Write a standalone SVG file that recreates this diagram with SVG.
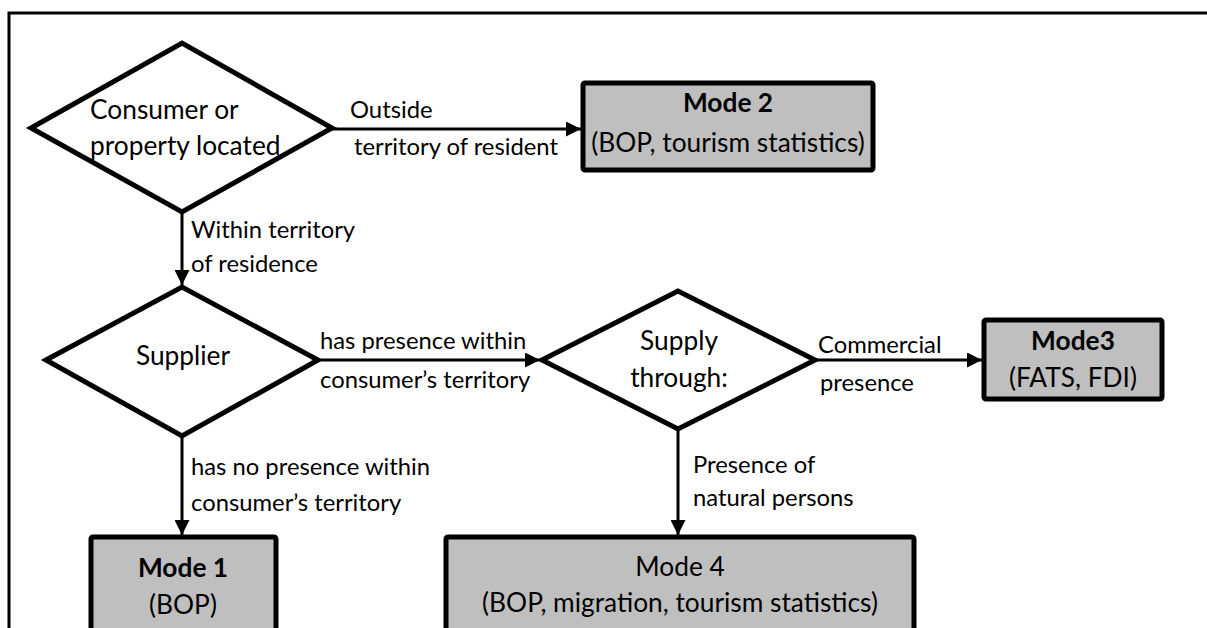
<svg xmlns="http://www.w3.org/2000/svg" width="1207" height="628" viewBox="0 0 1207 628">
<defs>
<style>
.frame{fill:none;stroke:#000;stroke-width:3}
.dia{fill:#fff;stroke:#000;stroke-width:5;stroke-linejoin:miter}
.box{fill:#bfbfbf;stroke:#000;stroke-width:5}
.con{fill:none;stroke:#000;stroke-width:3}
text{font-family:Lato,"Liberation Sans",sans-serif;fill:#000}
.nt{font-size:26.3px}
.lb{font-size:23.8px}
.b{font-weight:bold}
.c{text-anchor:middle}
</style>
<marker id="ah" viewBox="0 0 10 10" refX="10" refY="5" markerWidth="5" markerHeight="5" markerUnits="strokeWidth" orient="auto">
<path d="M0,0 L10,5 L0,10 Z" fill="#000"/>
</marker>
</defs>
<rect width="1207" height="628" fill="#fff"/>
<path class="frame" d="M9,640 L9,13 L1215,13"/>
<g id="connectors">
<line class="con" x1="332" y1="129" x2="581" y2="129" marker-end="url(#ah)"/>
<line class="con" x1="182" y1="212" x2="182" y2="285" marker-end="url(#ah)"/>
<line class="con" x1="318" y1="360" x2="540" y2="360" marker-end="url(#ah)"/>
<line class="con" x1="182" y1="436" x2="182" y2="535" marker-end="url(#ah)"/>
<line class="con" x1="815" y1="360" x2="982" y2="360" marker-end="url(#ah)"/>
<line class="con" x1="678" y1="429" x2="678" y2="535" marker-end="url(#ah)"/>
<text class="lb" x="350" y="118">Outside</text>
<text class="lb" x="354" y="155">territory of resident</text>
<text class="lb" x="191" y="238">Within territory</text>
<text class="lb" x="191" y="272">of residence</text>
<text class="lb" x="320" y="349">has presence within</text>
<text class="lb" x="320" y="388">consumer’s territory</text>
<text class="lb" x="191" y="475">has no presence within</text>
<text class="lb" x="191" y="511">consumer’s territory</text>
<text class="lb" x="818" y="353">Commercial</text>
<text class="lb" x="820" y="391">presence</text>
<text class="lb" x="693" y="473">Presence of</text>
<text class="lb" x="693" y="506">natural persons</text>
</g>
<g id="d1">
<polygon class="dia" points="31,128 182,43 332,128 182,212"/>
<text class="nt" x="90" y="119">Consumer or</text>
<text class="nt" x="90" y="155">property located</text>
</g>
<g id="mode2">
<rect class="box" x="583" y="83" width="290" height="87" rx="2"/>
<text class="nt b c" x="728" y="112">Mode 2</text>
<text class="nt c" x="728" y="152">(BOP, tourism statistics)</text>
</g>
<g id="d2">
<polygon class="dia" points="46,360 182,287 318,360 182,436"/>
<text class="nt c" x="183" y="365">Supplier</text>
</g>
<g id="d3">
<polygon class="dia" points="542,360 678,291 815,360 678,429"/>
<text class="nt c" x="679" y="350">Supply</text>
<text class="nt c" x="679" y="387">through:</text>
</g>
<g id="mode3">
<rect class="box" x="984" y="320" width="178" height="79" rx="2"/>
<text class="nt b c" x="1073" y="350">Mode3</text>
<text class="nt c" x="1073" y="387">(FATS, FDI)</text>
</g>
<g id="mode1">
<rect class="box" x="91" y="537" width="185" height="110" rx="2"/>
<text class="nt b c" x="183" y="577">Mode 1</text>
<text class="nt c" x="183" y="614">(BOP)</text>
</g>
<g id="mode4">
<rect class="box" x="446" y="537" width="468" height="110" rx="2"/>
<text class="nt c" x="680" y="576">Mode 4</text>
<text class="nt c" x="680" y="612">(BOP, migration, tourism statistics)</text>
</g>
</svg>
